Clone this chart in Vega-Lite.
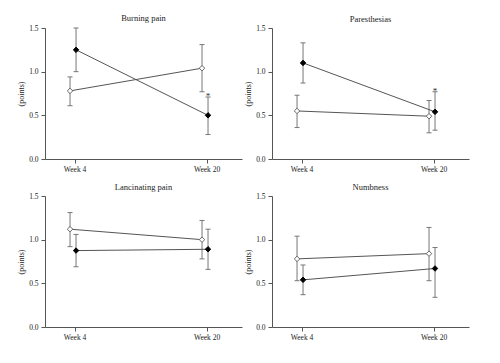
{
  "$schema": "https://vega.github.io/schema/vega-lite/v6.json",
  "background": "white",
  "padding": {"left": 17, "top": 13, "right": 5, "bottom": 5},
  "config": {
    "view": {"stroke": null},
    "font": "Liberation Serif",
    "axis": {"grid": false, "domainColor": "#555", "tickColor": "#555", "labelColor": "#222", "titleColor": "#222", "labelFont": "Liberation Serif", "titleFont": "Liberation Serif", "labelFontSize": 7.5, "titleFontSize": 8, "titleFontWeight": "normal", "tickSize": 4}
  },
  "data": {
    "values": [
      {"panel": "Burning pain", "week": 4, "grp": "open", "mean": 0.78, "lo": 0.61, "hi": 0.94, "sig": ""},
      {"panel": "Burning pain", "week": 4, "grp": "filled", "mean": 1.25, "lo": 1.0, "hi": 1.5, "sig": ""},
      {"panel": "Burning pain", "week": 20, "grp": "open", "mean": 1.04, "lo": 0.77, "hi": 1.31, "sig": ""},
      {"panel": "Burning pain", "week": 20, "grp": "filled", "mean": 0.5, "lo": 0.28, "hi": 0.71, "sig": "*"},
      {"panel": "Paresthesias", "week": 4, "grp": "open", "mean": 0.55, "lo": 0.36, "hi": 0.73, "sig": ""},
      {"panel": "Paresthesias", "week": 4, "grp": "filled", "mean": 1.1, "lo": 0.87, "hi": 1.33, "sig": ""},
      {"panel": "Paresthesias", "week": 20, "grp": "open", "mean": 0.49, "lo": 0.3, "hi": 0.67, "sig": ""},
      {"panel": "Paresthesias", "week": 20, "grp": "filled", "mean": 0.54, "lo": 0.33, "hi": 0.77, "sig": "*"},
      {"panel": "Lancinating pain", "week": 4, "grp": "open", "mean": 1.12, "lo": 0.92, "hi": 1.31, "sig": ""},
      {"panel": "Lancinating pain", "week": 4, "grp": "filled", "mean": 0.875, "lo": 0.69, "hi": 1.06, "sig": ""},
      {"panel": "Lancinating pain", "week": 20, "grp": "open", "mean": 1.0, "lo": 0.78, "hi": 1.22, "sig": ""},
      {"panel": "Lancinating pain", "week": 20, "grp": "filled", "mean": 0.89, "lo": 0.66, "hi": 1.12, "sig": ""},
      {"panel": "Numbness", "week": 4, "grp": "open", "mean": 0.78, "lo": 0.53, "hi": 1.04, "sig": ""},
      {"panel": "Numbness", "week": 4, "grp": "filled", "mean": 0.54, "lo": 0.37, "hi": 0.71, "sig": ""},
      {"panel": "Numbness", "week": 20, "grp": "open", "mean": 0.84, "lo": 0.53, "hi": 1.14, "sig": ""},
      {"panel": "Numbness", "week": 20, "grp": "filled", "mean": 0.67, "lo": 0.34, "hi": 0.91, "sig": ""}
    ]
  },
  "facet": {
    "field": "panel",
    "type": "nominal",
    "sort": ["Burning pain", "Paresthesias", "Lancinating pain", "Numbness"],
    "header": {"title": null, "labelFont": "Liberation Serif", "labelFontSize": 8.5, "labelColor": "#222", "labelPadding": 1}
  },
  "columns": 2,
  "spacing": {"row": 9, "column": 2},
  "resolve": {"axis": {"x": "independent", "y": "independent"}},
  "spec": {
    "width": 197,
    "height": 131,
    "encoding": {
      "x": {
        "field": "week",
        "type": "quantitative",
        "scale": {"domain": [0.42, 24.3], "nice": false, "zero": false},
        "axis": {"title": null, "values": [4, 20], "labelExpr": "'Week ' + datum.value", "labelPadding": 2}
      }
    },
    "layer": [
      {
        "mark": {"type": "rule", "color": "#777", "strokeWidth": 1, "xOffset": {"expr": "datum.grp === 'open' ? -4.5 : 1.5"}},
        "encoding": {
          "y": {"field": "lo", "type": "quantitative", "scale": {"domain": [0, 1.5], "nice": false}, "axis": {"title": "(points)", "values": [0, 0.5, 1, 1.5], "format": ".1f", "labelPadding": 3, "titlePadding": 3}},
          "y2": {"field": "hi"}
        }
      },
      {
        "mark": {"type": "point", "shape": "stroke", "size": 25, "filled": false, "color": "#777", "strokeWidth": 1, "opacity": 1, "xOffset": {"expr": "datum.grp === 'open' ? -4.5 : 1.5"}},
        "encoding": {"y": {"field": "hi", "type": "quantitative"}}
      },
      {
        "mark": {"type": "point", "shape": "stroke", "size": 25, "filled": false, "color": "#777", "strokeWidth": 1, "opacity": 1, "xOffset": {"expr": "datum.grp === 'open' ? -4.5 : 1.5"}},
        "encoding": {"y": {"field": "lo", "type": "quantitative"}}
      },
      {
        "mark": {"type": "line", "color": "#555", "strokeWidth": 1, "xOffset": {"expr": "datum.grp === 'open' ? -4.5 : 1.5"}},
        "encoding": {"y": {"field": "mean", "type": "quantitative"}, "detail": {"field": "grp"}}
      },
      {
        "mark": {"type": "point", "shape": "diamond", "size": 30, "opacity": 1, "strokeWidth": 1, "xOffset": {"expr": "datum.grp === 'open' ? -4.5 : 1.5"}},
        "encoding": {
          "y": {"field": "mean", "type": "quantitative"},
          "fill": {"field": "grp", "type": "nominal", "scale": {"domain": ["filled", "open"], "range": ["#000", "#fff"]}, "legend": null},
          "stroke": {"field": "grp", "type": "nominal", "scale": {"domain": ["filled", "open"], "range": ["#000", "#666"]}, "legend": null}
        }
      },
      {
        "mark": {"type": "text", "fontSize": 9, "color": "#333", "baseline": "alphabetic", "dy": 2, "xOffset": {"expr": "datum.grp === 'open' ? -4.5 : 1.5"}},
        "encoding": {"y": {"field": "hi", "type": "quantitative"}, "text": {"field": "sig"}}
      }
    ]
  }
}
